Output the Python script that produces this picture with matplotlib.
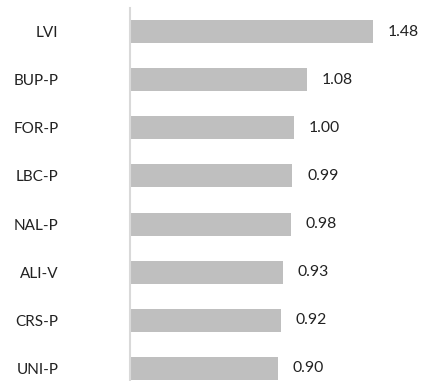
import matplotlib
matplotlib.use("Agg")
import matplotlib.pyplot as plt
import numpy as np

labels = ["LVI", "BUP-P", "FOR-P", "LBC-P", "NAL-P", "ALI-V", "CRS-P", "UNI-P"]
values = [1.48, 1.08, 1.00, 0.99, 0.98, 0.93, 0.92, 0.90]

plt.rcParams['font.family'] = ['Lato', 'DejaVu Sans']

W, H = 423, 381
fig = plt.figure(figsize=(W / 100, H / 100), dpi=100)
ax = fig.add_axes([130 / W, 0, 293 / W, 373 / H])

y = np.arange(len(labels))
ax.barh(y, values, height=0.48, color='#bfbfbf')
ax.set_xlim(0, 293 / 164)
ax.set_ylim(7.26, -0.489)

for yi, v in zip(y, values):
    ax.text(v + 0.09, yi, f"{v:.2f}", va='center', ha='left', fontsize=11.3, color='#222222')

ax.set_yticks(y)
ax.set_yticklabels(labels, fontsize=11, color='#222222')
# labels end about 72 px left of the axis line
ax.tick_params(axis='y', length=0, pad=51.5)
ax.set_xticks([])
for s in ['top', 'right', 'bottom']:
    ax.spines[s].set_visible(False)
ax.spines['left'].set_color('#d9d9d9')
ax.spines['left'].set_linewidth(1.5)

fig.savefig("out.png", dpi=100)
